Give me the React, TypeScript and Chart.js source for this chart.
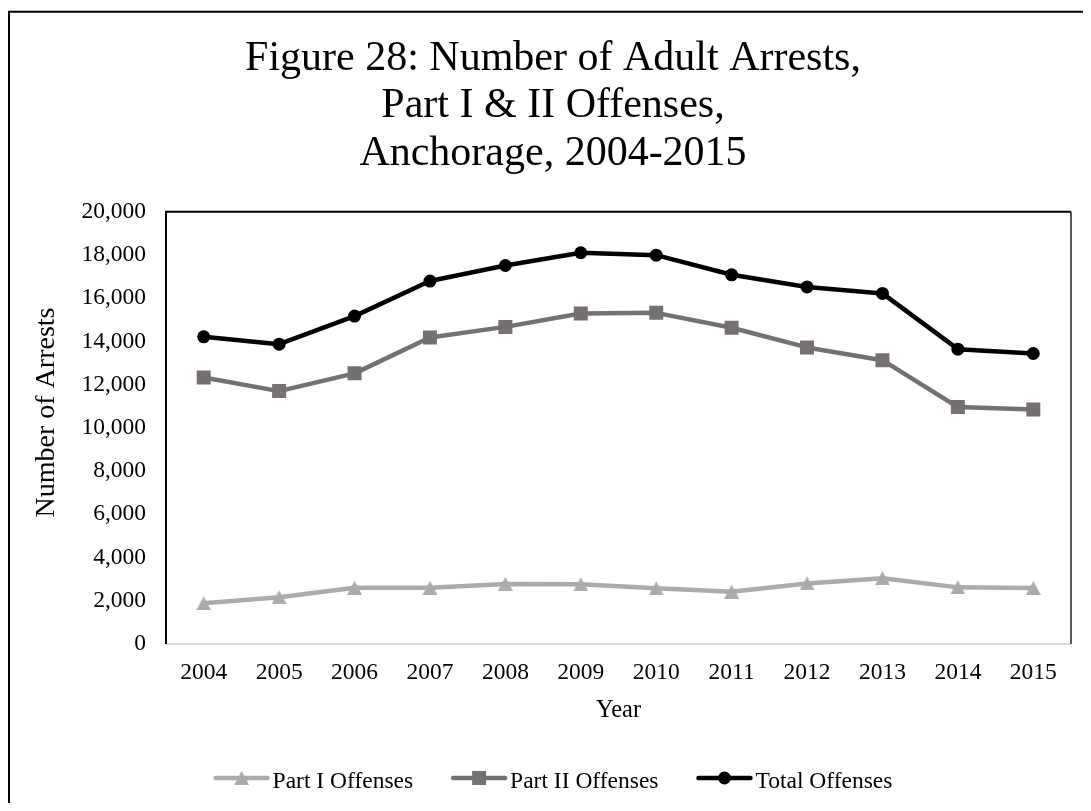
import React, { useEffect, useRef } from 'react';
import { Chart, registerables } from 'chart.js';

Chart.register(...registerables);

// ---------- data ----------
const YEARS = ['2004', '2005', '2006', '2007', '2008', '2009', '2010', '2011', '2012', '2013', '2014', '2015'];
const PART_I = [1880, 2160, 2600, 2600, 2780, 2760, 2580, 2420, 2800, 3040, 2620, 2590];
const PART_II = [12330, 11700, 12520, 14180, 14670, 15290, 15320, 14630, 13720, 13130, 10960, 10850];
const TOTAL = [14210, 13870, 15170, 16790, 17510, 18100, 17990, 17080, 16520, 16220, 13640, 13440];
const SERIES_LABELS = ['Part I Offenses', 'Part II Offenses', 'Total Offenses'];
const TITLE_LINES = ['Figure 28: Number of Adult Arrests,', 'Part I & II Offenses,', 'Anchorage, 2004-2015'];
const X_TITLE = 'Year';
const Y_TITLE = 'Number of Arrests';
const Y_MIN = 0;
const Y_MAX = 20000;
const Y_STEP = 2000;

// ---------- styles ----------
const FONT = "'Liberation Serif', 'Times New Roman', Times, serif";
const C_PART1 = '#AEAAAA';
const C_PART2 = '#767171';
const C_TOTAL = '#000000';
const W = 1075;
const H = 795;
const PAD_L = 27;
const PAD_R = 12;

function makeTriangle(color: string, w: number, h: number) {
  const c = document.createElement('canvas');
  c.width = w;
  c.height = h;
  const g = c.getContext('2d')!;
  g.fillStyle = color;
  g.beginPath();
  g.moveTo(w / 2, 0);
  g.lineTo(w, h);
  g.lineTo(0, h);
  g.closePath();
  g.fill();
  return c;
}

function drawMarker(ctx: CanvasRenderingContext2D, style: any, color: string, x: number, y: number) {
  ctx.save();
  ctx.fillStyle = color;
  if (style && typeof style === 'object') {
    ctx.drawImage(style, x - style.width / 2, y - style.height / 2);
  } else if (style === 'rect') {
    ctx.fillRect(x - 7, y - 7, 14, 14);
  } else {
    ctx.beginPath();
    ctx.arc(x, y, 6.5, 0, Math.PI * 2);
    ctx.fill();
  }
  ctx.restore();
}

export default function App() {
  const ref = useRef<HTMLCanvasElement | null>(null);

  useEffect(() => {
    if (!ref.current) return;
    const tri = makeTriangle(C_PART1, 15, 14);
    const styles: any[] = [tri, 'rect', 'circle'];

    const framePlugin = {
      id: 'plotFrame',
      beforeDatasetsDraw(chart: any) {
        const { ctx, chartArea: a } = chart;
        ctx.save();
        ctx.lineCap = 'butt';
        // bottom category axis line (light grey)
        ctx.strokeStyle = '#D9D9D9';
        ctx.lineWidth = 2;
        ctx.beginPath();
        ctx.moveTo(a.left, a.bottom);
        ctx.lineTo(a.right, a.bottom);
        ctx.stroke();
        // top, left, right plot border
        ctx.strokeStyle = '#000';
        ctx.lineWidth = 2;
        ctx.beginPath();
        ctx.moveTo(a.left, a.bottom);
        ctx.lineTo(a.left, a.top);
        ctx.lineTo(a.right, a.top);
        ctx.stroke();
        ctx.strokeStyle = '#222';
        ctx.lineWidth = 1.5;
        ctx.beginPath();
        ctx.moveTo(a.right, a.top);
        ctx.lineTo(a.right, a.bottom);
        ctx.stroke();
        ctx.restore();
      },
      afterDraw(chart: any) {
        const { ctx } = chart;
        ctx.save();
        // outer frame (top + left visible)
        ctx.strokeStyle = '#000';
        ctx.lineWidth = 2;
        ctx.beginPath();
        ctx.moveTo(1, H);
        ctx.lineTo(1, 3.7);
        ctx.lineTo(W, 3.7);
        ctx.stroke();

        // y axis title
        ctx.save();
        ctx.translate(38.5, 404.5);
        ctx.rotate(-Math.PI / 2);
        ctx.font = `28px ${FONT}`;
        ctx.fillStyle = '#000';
        ctx.textAlign = 'center';
        ctx.textBaseline = 'middle';
        ctx.fillText(Y_TITLE, 0, 0);
        ctx.restore();

        // legend
        ctx.font = `23.5px ${FONT}`;
        ctx.fillStyle = '#000';
        ctx.textBaseline = 'alphabetic';
        ctx.textAlign = 'left';
        const lineLen = 56;
        const gap = 3;
        const spacing = 38;
        const ds = chart.data.datasets;
        const widths = ds.map((d: any) => lineLen + gap + ctx.measureText(d.label).width);
        const total = widths.reduce((s: number, v: number) => s + v, 0) + spacing * (ds.length - 1);
        const cx = (PAD_L + chart.width - PAD_R) / 2;
        let x = cx - total / 2;
        const ly = 770;
        ds.forEach((d: any, i: number) => {
          ctx.strokeStyle = d.borderColor;
          ctx.lineWidth = 4.5;
          ctx.lineCap = 'round';
          ctx.beginPath();
          ctx.moveTo(x + 2, ly);
          ctx.lineTo(x + lineLen - 2, ly);
          ctx.stroke();
          drawMarker(ctx, styles[i], d.borderColor, x + lineLen / 2, ly);
          ctx.fillStyle = '#000';
          ctx.fillText(d.label, x + lineLen + gap, 779.5);
          x += widths[i] + spacing;
        });
        ctx.restore();
      },
    };

    const chart = new Chart(ref.current, {
      type: 'line',
      data: {
        labels: YEARS,
        datasets: [
          {
            label: SERIES_LABELS[0],
            data: PART_I,
            borderColor: C_PART1,
            backgroundColor: C_PART1,
            borderWidth: 4.5,
            pointStyle: tri as any,
            pointRadius: 8,
            pointBorderWidth: 0,
            borderJoinStyle: 'round',
            borderCapStyle: 'round',
            tension: 0,
          },
          {
            label: SERIES_LABELS[1],
            data: PART_II,
            borderColor: C_PART2,
            backgroundColor: C_PART2,
            borderWidth: 4.5,
            pointStyle: 'rect',
            pointRadius: 9.9,
            pointBorderWidth: 0,
            borderJoinStyle: 'round',
            borderCapStyle: 'round',
            tension: 0,
          },
          {
            label: SERIES_LABELS[2],
            data: TOTAL,
            borderColor: C_TOTAL,
            backgroundColor: C_TOTAL,
            borderWidth: 4.5,
            pointStyle: 'circle',
            pointRadius: 6.5,
            pointBorderWidth: 0,
            borderJoinStyle: 'round',
            borderCapStyle: 'round',
            tension: 0,
          },
        ],
      },
      options: {
        responsive: false,
        animation: false,
        events: [],
        layout: { padding: { left: PAD_L, right: PAD_R, top: 0, bottom: 0 } },
        plugins: {
          legend: { display: false },
          tooltip: { enabled: false },
          title: {
            display: true,
            text: TITLE_LINES,
            color: '#000',
            font: { family: FONT, size: 42, weight: 'normal', lineHeight: 1.13 },
            padding: { top: 27, bottom: 34.3 },
          },
        },
        scales: {
          x: {
            type: 'category',
            offset: true,
            grid: { display: false, drawTicks: false },
            border: { display: false },
            ticks: {
              color: '#000',
              font: { family: FONT, size: 23.5 },
              padding: 15,
              maxRotation: 0,
              autoSkip: false,
            },
            title: {
              display: true,
              text: X_TITLE,
              color: '#000',
              font: { family: FONT, size: 24.5 },
              padding: { top: 0, bottom: 77.3 },
            },
            afterFit: (s: any) => {
              s.height = 159;
            },
          },
          y: {
            min: Y_MIN,
            max: Y_MAX,
            grid: { display: false, drawTicks: false },
            border: { display: false },
            ticks: {
              stepSize: Y_STEP,
              color: '#000',
              font: { family: FONT, size: 23.5 },
              padding: 20,
              callback: (v: any) => Number(v).toLocaleString('en-US'),
            },
            afterFit: (s: any) => {
              s.width = 131;
            },
          },
        },
      },
      plugins: [framePlugin],
    } as any);

    return () => chart.destroy();
  }, []);

  return (
    <div style={{ width: W, height: H, position: 'relative' }}>
      <canvas ref={ref} width={W} height={H} style={{ display: 'block', width: W, height: H }} />
    </div>
  );
}
